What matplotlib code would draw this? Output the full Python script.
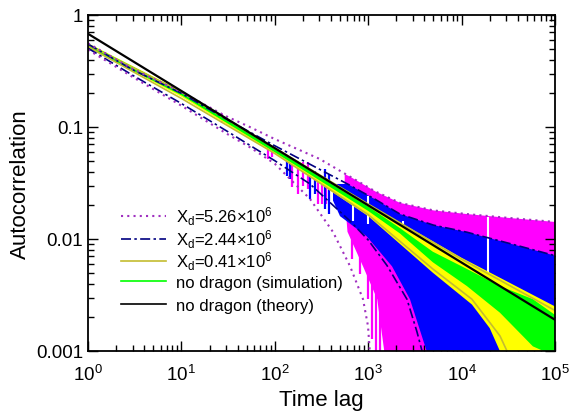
import matplotlib
matplotlib.use("Agg")
import matplotlib.pyplot as plt
import numpy as np
from matplotlib.lines import Line2D

plt.rcParams['font.family'] = ['Liberation Sans', 'DejaVu Sans']
plt.rcParams['mathtext.fontset'] = 'custom'
plt.rcParams['mathtext.rm'] = 'Liberation Sans'
plt.rcParams['mathtext.it'] = 'Liberation Sans:italic'
plt.rcParams['mathtext.default'] = 'regular'

# ---------------- data ----------------
# no dragon theory (power law)
theory_x = [1, 1e5]
theory_y = [0.68, 0.0019]

# no dragon simulation band (green)
nod_x = [1, 10, 100, 1000, 2190, 4920, 11400, 25700, 58000, 1e5]
nod_hi = [0.555, 0.207, 0.0635, 0.0195, 0.0125, 0.0077, 0.0054, 0.0038, 0.0029, 0.0021]
nod_lo = [0.51, 0.192, 0.0595, 0.0178, 0.0112, 0.0062, 0.0038, 0.0022, 0.0011, 0.0009]

# X_d = 0.41e6 simulation band (yellow)
y041_hi_x = [1, 10, 100, 1000, 1e4, 1e5]
y041_hi = [0.56, 0.21, 0.066, 0.0205, 0.0068, 0.0025]
y041_lo_x = [1, 10, 100, 1000, 4920, 12900, 20000, 25700, 1e5]
y041_lo = [0.515, 0.186, 0.058, 0.0160, 0.0050, 0.0026, 0.0016, 0.001, 0.0005]

# X_d = 0.41e6 theory bounds (olive)
t041_hi_x = [1, 10, 100, 1000, 1e4, 1e5]
t041_hi = [0.54, 0.205, 0.065, 0.0205, 0.0066, 0.0023]
t041_lo_x = [1, 10, 100, 1000, 4920, 12900, 20000, 25800, 30600]
t041_lo = [0.52, 0.18, 0.058, 0.0165, 0.0054, 0.0029, 0.0018, 0.00136, 0.001]

# X_d = 2.44e6 simulation band (blue)
b244_hi_x = [420, 600, 1200, 2190, 5000, 11400, 33000, 1e5]
b244_hi = [0.031, 0.031, 0.0225, 0.0167, 0.0133, 0.0115, 0.0091, 0.0071]
b244_lo_x = [420, 499, 960, 1800, 2800, 4400, 1e5]
b244_lo = [0.022, 0.016, 0.0106, 0.0057, 0.0029, 0.0009, 0.0009]

# X_d = 2.44e6 theory bounds (navy dash-dot)
t244_hi_x = [1, 3, 10, 30, 100, 300, 600, 1200, 2190, 5000, 11400, 33000, 1e5]
t244_hi = [0.55, 0.325, 0.20, 0.118, 0.068, 0.042, 0.031, 0.0225, 0.0167, 0.0133, 0.0115, 0.0091, 0.0071]
t244_lo_x = [1, 3, 10, 30, 100, 238, 638, 1000, 1590, 2600, 3330, 3770]
t244_lo = [0.505, 0.29, 0.162, 0.093, 0.050, 0.031, 0.0145, 0.0098, 0.0058, 0.0029, 0.00148, 0.001]

# X_d = 5.26e6 simulation band (magenta)
m526_hi_x = [560, 640, 1200, 2200, 5000, 11400, 30000, 1e5]
m526_hi = [0.038, 0.036, 0.0265, 0.021, 0.018, 0.0167, 0.0155, 0.0142]
m526_lo_x = [560, 600, 880, 1250, 1510, 1e5]
m526_lo = [0.024, 0.0116, 0.0057, 0.0029, 0.0009, 0.0009]

# X_d = 5.26e6 theory bounds (purple dotted)
t526_hi_x = [1, 3, 10, 30, 54, 100, 300, 640, 1200, 2200, 5000, 11400, 30000, 1e5]
t526_hi = [0.56, 0.33, 0.205, 0.125, 0.100, 0.078, 0.052, 0.036, 0.0265, 0.021, 0.018, 0.0167, 0.0155, 0.0142]
t526_lo_x = [1, 3, 10, 30, 54, 100, 238, 420, 638, 880, 995, 1040]
t526_lo = [0.49, 0.28, 0.155, 0.088, 0.066, 0.047, 0.0228, 0.01155, 0.00574, 0.0029, 0.00167, 0.001]

# dropout spikes of the simulations
m_spike_x = [27.2, 84.8, 93.4, 153, 177, 201, 227, 289, 320, 355, 672, 740, 815, 900, 995, 1100, 1210, 1340]
m_spike_top = [0.1306, 0.0663, 0.0636, 0.0467, 0.0467, 0.0487, 0.0487, 0.0323, 0.0323, 0.0323,
               0.031, 0.031, 0.0279, 0.0252, 0.0228, 0.0228, 0.0185, 0.0151]
m_spike_bot = [0.1086, 0.0518, 0.054, 0.0291, 0.0252, 0.0297, 0.0279, 0.0205, 0.0205, 0.0205,
               0.0066, 0.009, 0.00487, 0.00735, 0.0029, 0.00128, 0.001, 0.001]
b_spike_x = [135, 145, 238, 268, 343, 380]
b_spike_top = [0.0518, 0.0487, 0.0405, 0.0405, 0.0422, 0.038]
b_spike_bot = [0.0365, 0.0344, 0.0228, 0.0252, 0.0185, 0.0167]
gap_x = [687, 995, 2360, 19200]
gap_top = [0.0215, 0.0242, 0.0145, 0.0157]
gap_bot = [0.0145, 0.0137, 0.0123, 0.0038]

legend_labels = [r'X$_{d}$=5.26$\times$10$^{6}$', r'X$_{d}$=2.44$\times$10$^{6}$',
                 r'X$_{d}$=0.41$\times$10$^{6}$', 'no dragon (simulation)', 'no dragon (theory)']
ytick_vals = [0.001, 0.01, 0.1, 1]
ytick_labels = ['0.001', '0.01', '0.1', '1']

# ---------------- colours ----------------
C_MAG = '#FF00FF'
C_BLUE = '#0000FF'
C_YEL = '#FFFF00'
C_GRN = '#00FF00'
C_PURP = '#A030C0'
C_NAVY = '#000080'
C_OLIVE = '#C4BC30'


def band(ax, xh, yh, xl, yl, color, z):
    px = np.concatenate([np.asarray(xh, float), np.asarray(xl, float)[::-1]])
    py = np.concatenate([np.asarray(yh, float), np.asarray(yl, float)[::-1]])
    ax.fill(px, py, color=color, lw=0, zorder=z)


fig = plt.figure(figsize=(5.72, 4.14), dpi=100)
ax = fig.add_axes([88 / 572, 1 - 352 / 414, 467 / 572, 336 / 414])
ax.set_xscale('log')
ax.set_yscale('log')

band(ax, m526_hi_x, m526_hi, m526_lo_x, m526_lo, C_MAG, 1)
ax.vlines(m_spike_x, m_spike_bot, m_spike_top, colors=C_MAG, lw=1.6, zorder=1.1)
band(ax, b244_hi_x, b244_hi, b244_lo_x, b244_lo, C_BLUE, 2)
ax.vlines(b_spike_x, b_spike_bot, b_spike_top, colors=C_BLUE, lw=1.6, zorder=2.1)
ax.vlines(gap_x, gap_bot, gap_top, colors='white', lw=1.5, zorder=2.5)
band(ax, y041_hi_x, y041_hi, y041_lo_x, y041_lo, C_YEL, 3)
band(ax, nod_x, nod_hi, nod_x, nod_lo, C_GRN, 4)

ax.plot(t041_hi_x, t041_hi, color=C_OLIVE, lw=1.2, zorder=5)
ax.plot(t041_lo_x, t041_lo, color=C_OLIVE, lw=1.2, zorder=5)
ax.plot(t244_hi_x, t244_hi, color=C_NAVY, lw=1.2, ls=(0, (6, 2, 1.5, 2)), zorder=6)
ax.plot(t244_lo_x, t244_lo, color=C_NAVY, lw=1.2, ls=(0, (6, 2, 1.5, 2)), zorder=6)
ax.plot(t526_hi_x, t526_hi, color=C_PURP, lw=1.5, ls=(0, (1, 2)), zorder=6)
ax.plot(t526_lo_x, t526_lo, color=C_PURP, lw=1.5, ls=(0, (1, 2)), zorder=6)
ax.plot(theory_x, theory_y, color='black', lw=1.6, zorder=7)

ax.set_xlim(1, 1e5)
ax.set_ylim(1e-3, 1)
ax.set_yticks(ytick_vals)
ax.set_yticklabels(ytick_labels)
ax.tick_params(which='both', direction='in', top=True, right=True, labelsize=13.5, width=1.0)
ax.tick_params(which='major', length=7)
ax.tick_params(which='minor', length=4)
ax.tick_params(axis='y', which='major', pad=3.5)
ax.tick_params(axis='x', which='major', pad=9)
for s in ax.spines.values():
    s.set_linewidth(1.3)
    s.set_zorder(10)

ax.set_xlabel('Time lag', fontsize=16, labelpad=4)
ax.set_ylabel('Autocorrelation', fontsize=16, labelpad=4)

handles = [Line2D([], [], color=C_PURP, lw=1.5, ls=(0, (1, 2))),
           Line2D([], [], color=C_NAVY, lw=1.2, ls=(0, (6, 2, 1.5, 2))),
           Line2D([], [], color=C_OLIVE, lw=1.2),
           Line2D([], [], color=C_GRN, lw=1.2),
           Line2D([], [], color='black', lw=1.2)]
common = dict(frameon=False, fontsize=12, handlelength=2.7, handletextpad=0.6,
              borderpad=0, borderaxespad=0, loc='center left')
leg1 = ax.legend(handles[:3], legend_labels[:3], bbox_to_anchor=(0.071, 0.335),
                 labelspacing=0.0, **common)
ax.add_artist(leg1)
ax.legend(handles[3:], legend_labels[3:], bbox_to_anchor=(0.071, 0.170),
          labelspacing=0.52, **common)

fig.savefig('out.png', dpi=100)
